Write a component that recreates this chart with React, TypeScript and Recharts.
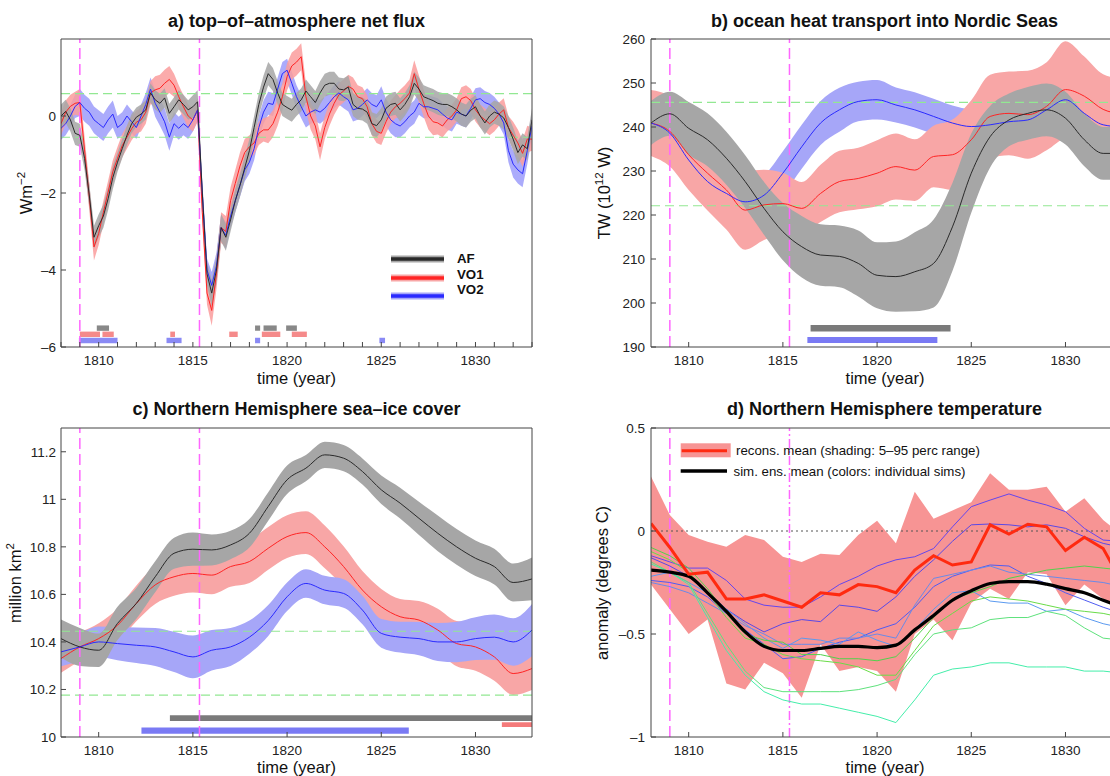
import React from 'react'
import { ComposedChart, Area, Line, XAxis, YAxis, ReferenceLine, ReferenceArea } from 'recharts'

const FONT = '"Liberation Sans", Arial, Helvetica, sans-serif'
const TICK = { fontSize: 13.5, fill: '#222', fontFamily: FONT }
const FRAME = '#444'

const X_DOMAIN: [number, number] = [1808, 1833]
const YEARS = [
    1808, 1809, 1810, 1811, 1812, 1813, 1814, 1815, 1816, 1817, 1818, 1819, 1820,
    1821, 1822, 1823, 1824, 1825, 1826, 1827, 1828, 1829, 1830, 1831, 1832, 1833,
]
const LABEL_TICKS = [1810, 1815, 1820, 1825, 1830]
const ERUPTIONS = [1809.0, 1815.35]

// a) TOA net flux, quarterly from 1808.00 to 1833.00
const TOA_AF = [
    0.0, 0.12, -0.1, -0.45, -0.5, -1.1, -2.05, -3.15, -2.85, -2.6, -2.15, -1.6,
    -1.2, -0.85, -0.5, -0.2, -0.03, 0.05, 0.16, 0.6, 0.42, 0.33, 0.47, 0.07,
    0.24, 0.42, 0.3, 0.16, 0.24, 0.37, -2.0, -4.1, -4.6, -4.0, -2.9, -3.15,
    -2.7, -2.2, -1.8, -1.35, -0.9, -0.3, 0.3, 0.75, 1.1, 0.95, 0.6, 0.3,
    0.22, 0.15, 0.3, 0.42, 0.65, 0.5, 0.35, 0.6, 0.8, 0.85, 0.85, 0.7,
    0.68, 0.75, 0.3, 0.2, 0.18, 0.1, -0.2, -0.25, -0.1, 0.2, 0.3, 0.33,
    0.16, 0.3, 0.5, 0.85, 0.7, 0.5, 0.45, 0.4, 0.33, 0.3, 0.3, 0.24,
    0.16, 0.05, 0.0, 0.15, 0.24, 0.0, -0.18, 0.0, 0.1, 0.05, -0.05, -0.3,
    -0.6, -0.95, -0.75, -0.85, -0.1,
]
const TOA_VO1 = [
    -0.2, 0.1, 0.25, 0.33, 0.35, -0.88, -2.1, -3.4, -3.05, -2.5, -1.98, -1.45,
    -1.1, -0.77, -0.55, -0.33, -0.16, -0.1, 0.1, 0.6, 0.68, 0.72, 0.85, 0.95,
    0.8, 0.5, 0.24, 0.0, -0.1, 0.16, -2.5, -4.6, -5.05, -4.1, -2.9, -3.0,
    -2.2, -1.75, -1.3, -0.95, -0.8, -0.7, -0.45, -0.36, -0.36, -0.2, 0.1, 0.5,
    1.02, 1.3, 1.4, 1.54, 0.5, 0.0, -0.26, -0.8, -0.3, 0.05, 0.33, 0.55,
    0.65, 0.77, 0.7, 0.5, 0.45, 0.24, -0.2, -0.4, -0.45, -0.15, 0.1, 0.24,
    0.33, 0.45, 0.6, 1.1, 0.7, 0.33, 0.0, -0.15, -0.18, -0.26, -0.1, 0.0,
    0.16, 0.45, 0.5, 0.4, 0.16, 0.0, -0.1, -0.2, -0.1, 0.05, 0.16, -0.3,
    -0.5, -0.7, -0.97, -0.6, -0.6,
]
const TOA_VO2 = [
    -0.32, -0.2, 0.0, 0.25, 0.35, 0.2, 0.1, -0.1, -0.2, -0.3, -0.1, 0.05,
    -0.3, -0.2, 0.0, -0.15, -0.3, 0.0, 0.3, 0.7, 0.33, 0.1, -0.15, -0.55,
    -0.2, -0.32, -0.2, -0.3, -0.1, 0.16, -2.0, -4.0, -4.4, -3.9, -2.9, -3.1,
    -2.6, -2.2, -1.8, -1.4, -1.2, -0.85, -0.3, 0.1, 0.33, 0.3, 0.7, 1.1,
    1.19, 0.85, 0.5, 0.24, 0.0, 0.1, 0.16, 0.1, 0.2, 0.35, 0.5, 0.6,
    0.5, 0.42, 0.16, 0.2, 0.3, 0.42, 0.3, 0.24, 0.42, 0.1, -0.1, -0.2,
    -0.26, -0.15, 0.0, 0.1, 0.33, 0.24, 0.24, 0.2, 0.16, 0.05, -0.05, -0.1,
    0.1, 0.05, 0.0, 0.2, 0.42, 0.45, 0.35, 0.3, 0.2, 0.05, -0.18, -0.9,
    -1.25, -1.4, -1.5, -0.9, -0.26,
]
// half-width of the shading, one value per year
const TOA_AF_W = [0.3, 0.3, 0.3, 0.25, 0.25, 0.25, 0.25, 0.3, 0.35, 0.3, 0.3, 0.3, 0.3, 0.3, 0.3, 0.3, 0.3, 0.3, 0.3, 0.3, 0.3, 0.3, 0.3, 0.3, 0.3, 0.3]
const TOA_VO1_W = [0.3, 0.35, 0.3, 0.3, 0.3, 0.35, 0.3, 0.3, 0.4, 0.35, 0.3, 0.35, 0.35, 0.35, 0.3, 0.3, 0.3, 0.3, 0.35, 0.35, 0.3, 0.3, 0.3, 0.3, 0.35, 0.3]
const TOA_VO2_W = [0.3, 0.35, 0.35, 0.3, 0.3, 0.35, 0.3, 0.3, 0.35, 0.3, 0.3, 0.3, 0.3, 0.3, 0.3, 0.3, 0.3, 0.35, 0.3, 0.3, 0.3, 0.3, 0.3, 0.3, 0.35, 0.3]
const TOA_NOISE = [0.58, -0.55]
const TOA_SIG_AF = [[1809.9, 1810.55], [1818.3, 1818.57], [1818.75, 1819.45], [1819.95, 1820.52]]
const TOA_SIG_VO1 = [[1809.0, 1810.07], [1810.2, 1810.8], [1813.8, 1814.05], [1816.93, 1817.38], [1818.66, 1819.64], [1820.25, 1821.05]]
const TOA_SIG_VO2 = [[1808.95, 1811.0], [1813.6, 1814.4], [1818.3, 1818.57], [1824.9, 1825.2]]

// b) ocean heat transport, yearly
const OHT_AF = [240.9, 243.0, 239.7, 237.1, 232.9, 227.6, 221.5, 216.2, 212.8, 210.9, 210.6, 209.0, 206.3, 206.0, 207.1, 209.0, 217.3, 229.5, 237.8, 241.6, 243.1, 243.9, 242.0, 237.1, 234.0, 234.0]
const OHT_VO1 = [240.9, 239.0, 233.7, 229.5, 225.7, 221.1, 222.3, 222.6, 221.5, 224.9, 227.6, 228.3, 229.5, 231.0, 230.2, 233.3, 233.7, 237.1, 242.4, 243.1, 242.8, 244.7, 248.5, 247.0, 244.0, 243.0]
const OHT_VO2 = [240.9, 238.6, 232.5, 227.6, 224.9, 223.0, 224.5, 229.5, 235.5, 240.9, 243.9, 245.8, 246.2, 245.0, 243.9, 242.4, 240.9, 240.1, 240.5, 241.2, 241.6, 243.9, 246.2, 243.1, 240.5, 240.0]
const OHT_AF_W = [5, 5, 6, 6, 6, 6, 6, 6.5, 7, 7, 7, 7.5, 7.5, 8, 9, 10, 10, 9, 7, 6, 6, 6, 6, 6, 6, 6]
const OHT_VO1_W = [7.5, 8, 8, 8.5, 9, 9, 8, 7, 6, 6.5, 7, 7, 7.5, 7.5, 7, 7, 8, 9, 9.5, 9.5, 10, 10, 11, 9, 8, 8]
const OHT_VO2_W = [3, 3, 3.5, 3.5, 3.5, 4, 4.5, 5, 5, 5, 5, 4.5, 4.5, 4, 4, 4, 4, 4, 4, 4, 4, 4, 4, 4, 4, 4]
const OHT_NOISE = [245.6, 222.1]
const OHT_SIG_AF = [[1816.47, 1823.9]]
const OHT_SIG_VO2 = [[1816.3, 1823.2]]

// c) sea-ice cover, yearly
const ICE_AF = [10.414, 10.379, 10.365, 10.478, 10.562, 10.674, 10.773, 10.79, 10.787, 10.808, 10.857, 10.97, 11.082, 11.131, 11.187, 11.173, 11.117, 11.04, 10.984, 10.92, 10.857, 10.8, 10.752, 10.717, 10.65, 10.665]
const ICE_VO1 = [10.33, 10.379, 10.414, 10.47, 10.562, 10.64, 10.674, 10.688, 10.681, 10.717, 10.738, 10.794, 10.843, 10.86, 10.8, 10.717, 10.618, 10.548, 10.506, 10.492, 10.45, 10.393, 10.379, 10.337, 10.267, 10.288]
const ICE_VO2 = [10.358, 10.379, 10.4, 10.393, 10.386, 10.379, 10.358, 10.337, 10.365, 10.379, 10.42, 10.49, 10.59, 10.646, 10.618, 10.604, 10.534, 10.436, 10.42, 10.414, 10.4, 10.4, 10.414, 10.42, 10.4, 10.45]
const ICE_AF_W = [0.08, 0.08, 0.07, 0.07, 0.065, 0.065, 0.065, 0.07, 0.065, 0.06, 0.06, 0.06, 0.06, 0.055, 0.055, 0.055, 0.055, 0.06, 0.065, 0.07, 0.075, 0.075, 0.075, 0.075, 0.08, 0.09]
const ICE_VO1_W = [0.06, 0.06, 0.065, 0.07, 0.075, 0.08, 0.08, 0.08, 0.08, 0.085, 0.09, 0.09, 0.09, 0.09, 0.09, 0.085, 0.08, 0.075, 0.075, 0.08, 0.09, 0.095, 0.1, 0.1, 0.09, 0.09]
const ICE_VO2_W = [0.06, 0.06, 0.065, 0.07, 0.075, 0.08, 0.085, 0.09, 0.085, 0.08, 0.07, 0.065, 0.06, 0.06, 0.06, 0.06, 0.06, 0.06, 0.065, 0.07, 0.08, 0.085, 0.09, 0.095, 0.1, 0.11]
const ICE_NOISE = [10.445, 10.176]
const ICE_SIG_AF = [[1813.78, 1833]]
const ICE_SIG_VO1 = [[1831.4, 1833]]
const ICE_SIG_VO2 = [[1812.27, 1826.46]]

// d) NH temperature, yearly
const RECON_MEAN = [0.037, -0.08, -0.21, -0.2, -0.33, -0.33, -0.31, -0.34, -0.37, -0.3, -0.31, -0.26, -0.27, -0.3, -0.19, -0.12, -0.165, -0.15, 0.03, -0.015, 0.033, 0.02, -0.095, -0.03, -0.085, -0.25]
const RECON_HI = [0.264, 0.078, -0.02, -0.052, -0.076, -0.02, -0.044, -0.125, -0.15, -0.11, -0.117, -0.02, 0.05, -0.06, 0.19, 0.06, 0.1, 0.14, 0.28, 0.2, 0.2, 0.215, 0.094, 0.159, 0.053, -0.02]
const RECON_LO = [-0.26, -0.38, -0.5, -0.43, -0.74, -0.77, -0.64, -0.69, -0.81, -0.55, -0.68, -0.66, -0.68, -0.78, -0.5, -0.43, -0.53, -0.35, -0.28, -0.33, -0.2, -0.21, -0.36, -0.26, -0.33, -0.4]
const SIM_MEAN = [-0.19, -0.2, -0.22, -0.3, -0.39, -0.49, -0.56, -0.58, -0.58, -0.57, -0.56, -0.56, -0.566, -0.554, -0.48, -0.41, -0.336, -0.29, -0.255, -0.246, -0.246, -0.258, -0.28, -0.3, -0.336, -0.37]
const SIM_1 = [-0.12, -0.15, -0.18, -0.18, -0.24, -0.33, -0.36, -0.37, -0.37, -0.32, -0.26, -0.22, -0.17, -0.14, -0.125, -0.085, 0.02, 0.118, 0.15, 0.18, 0.15, 0.126, 0.094, 0.013, -0.044, -0.05]
const SIM_2 = [-0.13, -0.17, -0.22, -0.3, -0.38, -0.44, -0.49, -0.45, -0.43, -0.44, -0.36, -0.37, -0.39, -0.32, -0.22, -0.14, -0.05, 0.03, 0.034, 0.03, 0.02, 0.03, 0.013, -0.028, -0.06, -0.08]
const SIM_3 = [-0.24, -0.25, -0.27, -0.32, -0.4, -0.48, -0.55, -0.62, -0.61, -0.57, -0.54, -0.52, -0.48, -0.45, -0.37, -0.27, -0.22, -0.19, -0.165, -0.17, -0.22, -0.255, -0.3, -0.335, -0.37, -0.4]
const SIM_4 = [-0.22, -0.2, -0.25, -0.3, -0.38, -0.45, -0.52, -0.57, -0.52, -0.53, -0.55, -0.49, -0.53, -0.56, -0.48, -0.38, -0.3, -0.29, -0.34, -0.35, -0.35, -0.39, -0.38, -0.42, -0.45, -0.47]
const SIM_5 = [-0.25, -0.27, -0.3, -0.35, -0.4, -0.46, -0.5, -0.55, -0.55, -0.55, -0.52, -0.52, -0.5, -0.52, -0.36, -0.23, -0.21, -0.19, -0.17, -0.2, -0.21, -0.22, -0.23, -0.24, -0.25, -0.27]
const SIM_6 = [-0.08, -0.12, -0.18, -0.28, -0.4, -0.5, -0.53, -0.54, -0.6, -0.6, -0.62, -0.62, -0.63, -0.61, -0.52, -0.42, -0.33, -0.3, -0.27, -0.23, -0.21, -0.19, -0.18, -0.17, -0.18, -0.19]
const SIM_7 = [-0.1, -0.14, -0.2, -0.3, -0.42, -0.52, -0.55, -0.6, -0.62, -0.63, -0.64, -0.66, -0.7, -0.7, -0.58, -0.46, -0.4, -0.34, -0.32, -0.33, -0.34, -0.36, -0.38, -0.39, -0.4, -0.42]
const SIM_8 = [-0.15, -0.2, -0.25, -0.4, -0.55, -0.68, -0.76, -0.78, -0.78, -0.78, -0.78, -0.77, -0.75, -0.72, -0.6, -0.5, -0.48, -0.47, -0.43, -0.42, -0.42, -0.39, -0.41, -0.47, -0.52, -0.53]
const SIM_9 = [-0.16, -0.2, -0.26, -0.42, -0.58, -0.7, -0.78, -0.82, -0.84, -0.84, -0.86, -0.88, -0.9, -0.93, -0.82, -0.7, -0.67, -0.66, -0.64, -0.64, -0.66, -0.66, -0.66, -0.68, -0.68, -0.69]
const SIMS = [SIM_1, SIM_2, SIM_3, SIM_4, SIM_5, SIM_6, SIM_7, SIM_8, SIM_9]
const SIM_COLORS = ['#6446ee', '#5a48e6', '#4f5cf2', '#5b9af0', '#6a8ae8', '#52d24c', '#6adc48', '#5ee27c', '#44eeaa']

const C = {
    black: '#2a2a2a', red: '#ff2424', blue: '#2a2aff',
    grayBand: '#a6a6a6', redBand: '#f8a6a6', blueBand: '#a6a6f8',
    grayBar: '#7a7a7a', redBar: '#f47a7a', blueBar: '#7a7af4',
    noise: '#92e892', volc: '#ff66ff',
}

const TOA_TABLE = TOA_AF.map((v, i) => {
    const k = Math.floor(i / 4)
    return {
        year: 1808 + i / 4,
        af: v, vo1: TOA_VO1[i], vo2: TOA_VO2[i],
        afBand: [v - TOA_AF_W[k], v + TOA_AF_W[k]],
        vo1Band: [TOA_VO1[i] - TOA_VO1_W[k], TOA_VO1[i] + TOA_VO1_W[k]],
        vo2Band: [TOA_VO2[i] - TOA_VO2_W[k], TOA_VO2[i] + TOA_VO2_W[k]],
    }
})

function yearlyTable(af: number[], vo1: number[], vo2: number[], afW: number[], vo1W: number[], vo2W: number[]) {
    return YEARS.map((year, i) => ({
        year, af: af[i], vo1: vo1[i], vo2: vo2[i],
        afBand: [af[i] - afW[i], af[i] + afW[i]],
        vo1Band: [vo1[i] - vo1W[i], vo1[i] + vo1W[i]],
        vo2Band: [vo2[i] - vo2W[i], vo2[i] + vo2W[i]],
    }))
}
const OHT_TABLE = yearlyTable(OHT_AF, OHT_VO1, OHT_VO2, OHT_AF_W, OHT_VO1_W, OHT_VO2_W)
const ICE_TABLE = yearlyTable(ICE_AF, ICE_VO1, ICE_VO2, ICE_AF_W, ICE_VO1_W, ICE_VO2_W)

const TEMP_TABLE = YEARS.map((year, i) => {
    const row: Record<string, any> = {
        year, recon: RECON_MEAN[i], reconBand: [RECON_LO[i], RECON_HI[i]], ens: SIM_MEAN[i],
    }
    SIMS.forEach((s, j) => { row['s' + j] = s[i] })
    return row
})

const dash = (v: number) => (v < 0 ? '\u2013' + Math.abs(v) : String(v))

// the four axes that make the box round a panel
function frame(yDomain: [number, number], yTicks: number[], xTicks: number[], leftW: number, yMargin: number, yFmt: (v: number) => string) {
    return [
        <XAxis key="xb" dataKey="year" type="number" domain={X_DOMAIN} allowDataOverflow ticks={xTicks} interval={0}
            tickFormatter={(v) => (v % 5 === 0 ? String(v) : '')} height={41} tickSize={-5} tickMargin={13}
            tick={TICK} stroke={FRAME} />,
        <XAxis key="xt" xAxisId="top" orientation="top" type="number" domain={X_DOMAIN} allowDataOverflow ticks={xTicks}
            interval={0} height={1} tick={false} tickSize={-5} stroke={FRAME} />,
        <YAxis key="yl" type="number" domain={yDomain} allowDataOverflow ticks={yTicks} interval={0} tickFormatter={yFmt}
            width={leftW} tickSize={-5} tickMargin={yMargin} tick={TICK} stroke={FRAME} />,
        <YAxis key="yr" yAxisId="r" orientation="right" type="number" domain={yDomain} allowDataOverflow ticks={yTicks}
            interval={0} width={1} tick={false} tickSize={-5} stroke={FRAME} />,
    ]
}

function volcLines(dotted = false) {
    return ERUPTIONS.map((x, i) => (
        <ReferenceLine key={'v' + i} x={x} stroke={C.volc} strokeWidth={1.5}
            strokeDasharray={dotted && i === 1 ? '9 3 2 3' : '11 5'} />
    ))
}

function noiseLines(levels: number[]) {
    return levels.map((y, i) => (
        <ReferenceLine key={'n' + i} y={y} stroke={C.noise} strokeWidth={1.1} strokeDasharray="9 5" />
    ))
}

function sigBars(spans: number[][], y1: number, y2: number, fill: string, key: string) {
    return spans.map(([x1, x2], i) => (
        <ReferenceArea key={key + i} x1={x1} x2={x2} y1={y1} y2={y2} fill={fill} fillOpacity={1} stroke="none" ifOverflow="visible" />
    ))
}

const bandProps = { stroke: 'none', isAnimationActive: false, dot: false, activeDot: false } as const
const lineProps = { dot: false, activeDot: false, isAnimationActive: false, strokeWidth: 1 } as const

export default function App() {
    const abs = (left: number, top: number): React.CSSProperties => ({ position: 'absolute', left, top })
    return (
        <div style={{ position: 'absolute', left: 0, top: 0, width: 1110, height: 776, overflow: 'hidden', background: '#fff', fontFamily: FONT }}>
            {/* a) top-of-atmosphere net flux */}
            <div style={abs(0, 0)}>
                <ComposedChart width={560} height={388} data={TOA_TABLE} margin={{ top: 38, right: 27, bottom: 0, left: 0 }}>
                    {frame([-6, 2], [-6, -4, -2, 0], YEARS, 61, 10, dash)}
                    <Area type="linear" dataKey="vo2Band" fill="#9c9cfa" fillOpacity={0.85} {...bandProps} />
                    <Area type="linear" dataKey="vo1Band" fill="#fa9c9c" fillOpacity={0.85} {...bandProps} />
                    <Area type="linear" dataKey="afBand" fill={C.grayBand} fillOpacity={0.85} {...bandProps} />
                    {noiseLines(TOA_NOISE)}
                    {volcLines()}
                    <Line type="linear" dataKey="vo1" stroke={C.red} {...lineProps} />
                    <Line type="linear" dataKey="vo2" stroke={C.blue} {...lineProps} />
                    <Line type="linear" dataKey="af" stroke={C.black} {...lineProps} />
                    {sigBars(TOA_SIG_AF, -5.58, -5.44, '#888', 'ga')}
                    {sigBars(TOA_SIG_VO1, -5.74, -5.6, '#f58a8a', 'ra')}
                    {sigBars(TOA_SIG_VO2, -5.9, -5.76, '#8a8af5', 'ba')}
                </ComposedChart>
            </div>

            {/* b) ocean heat transport */}
            <div style={abs(555, 0)}>
                <ComposedChart width={600} height={388} data={OHT_TABLE} margin={{ top: 38, right: 32, bottom: 0, left: 0 }}>
                    {frame([190, 260], [190, 200, 210, 220, 230, 240, 250, 260], LABEL_TICKS, 96, 11, String)}
                    <Area type="monotone" dataKey="vo2Band" fill={C.blueBand} fillOpacity={1} {...bandProps} />
                    <Area type="monotone" dataKey="vo1Band" fill={C.redBand} fillOpacity={1} {...bandProps} />
                    <Area type="monotone" dataKey="afBand" fill={C.grayBand} fillOpacity={1} {...bandProps} />
                    {noiseLines(OHT_NOISE)}
                    {volcLines()}
                    <Line type="monotone" dataKey="vo1" stroke={C.red} {...lineProps} />
                    <Line type="monotone" dataKey="vo2" stroke={C.blue} {...lineProps} />
                    <Line type="monotone" dataKey="af" stroke={C.black} {...lineProps} />
                    {sigBars(OHT_SIG_AF, 193.5, 195.0, C.grayBar, 'gb')}
                    {sigBars(OHT_SIG_VO2, 190.9, 192.3, C.blueBar, 'bb')}
                </ComposedChart>
            </div>

            {/* c) sea-ice cover */}
            <div style={abs(0, 390)}>
                <ComposedChart width={560} height={388} data={ICE_TABLE} margin={{ top: 37, right: 27, bottom: 0, left: 0 }}>
                    {frame([10, 11.3], [10, 10.2, 10.4, 10.6, 10.8, 11, 11.2], LABEL_TICKS, 61, 10, String)}
                    <Area type="monotone" dataKey="vo1Band" fill={C.redBand} fillOpacity={1} {...bandProps} />
                    <Area type="monotone" dataKey="vo2Band" fill={C.blueBand} fillOpacity={1} {...bandProps} />
                    <Area type="monotone" dataKey="afBand" fill={C.grayBand} fillOpacity={1} {...bandProps} />
                    {noiseLines(ICE_NOISE)}
                    {volcLines()}
                    <Line type="monotone" dataKey="vo1" stroke={C.red} {...lineProps} />
                    <Line type="monotone" dataKey="vo2" stroke={C.blue} {...lineProps} />
                    <Line type="monotone" dataKey="af" stroke={C.black} {...lineProps} />
                    {sigBars(ICE_SIG_AF, 10.067, 10.091, C.grayBar, 'gc')}
                    {sigBars(ICE_SIG_VO1, 10.042, 10.062, C.redBar, 'rc')}
                    {sigBars(ICE_SIG_VO2, 10.014, 10.04, C.blueBar, 'bc')}
                </ComposedChart>
            </div>

            {/* d) NH temperature */}
            <div style={abs(555, 390)}>
                <ComposedChart width={600} height={388} data={TEMP_TABLE} margin={{ top: 37, right: 32, bottom: 0, left: 0 }}>
                    {frame([-1, 0.5], [-1, -0.5, 0, 0.5], LABEL_TICKS, 96, 11, dash)}
                    <Area type="linear" dataKey="reconBand" fill="#f79494" fillOpacity={1} {...bandProps} />
                    <ReferenceLine y={0} stroke="#555" strokeDasharray="2 3" />
                    {volcLines(true)}
                    {SIMS.map((_, j) => (
                        <Line key={'s' + j} type="linear" dataKey={'s' + j} stroke={SIM_COLORS[j]} {...lineProps} />
                    ))}
                    <Line type="monotone" dataKey="ens" stroke="#000" {...lineProps} strokeWidth={3.2} />
                    <Line type="linear" dataKey="recon" stroke="#ff2a10" {...lineProps} strokeWidth={3} />
                </ComposedChart>
            </div>

            {/* titles, axis labels and legends */}
            <svg width={1110} height={776} style={{ position: 'absolute', left: 0, top: 0, pointerEvents: 'none' }} fontFamily={FONT}>
                <g fontSize={18} fontWeight="bold" fill="#111" textAnchor="middle">
                    <text x={296.5} y={26.5}>a) top–of–atmosphere net flux</text>
                    <text x={884.6} y={26.5}>b) ocean heat transport into Nordic Seas</text>
                    <text x={296.5} y={414.5}>c) Northern Hemisphere sea–ice cover</text>
                    <text x={884.6} y={414.5}>d) Northern Hemisphere temperature</text>
                </g>
                <g fontSize={16.5} fill="#111" textAnchor="middle">
                    <text x={296.5} y={384}>time (year)</text>
                    <text x={885} y={384}>time (year)</text>
                    <text x={296.5} y={772.5}>time (year)</text>
                    <text x={885} y={772.5}>time (year)</text>
                    <text transform="translate(32,193) rotate(-90)">
                        Wm<tspan dy={-7} fontSize={11.5}>−2</tspan>
                    </text>
                    <text transform="translate(610,193) rotate(-90)">
                        TW (10<tspan dy={-7} fontSize={11.5}>12</tspan><tspan dy={7}> W)</tspan>
                    </text>
                    <text transform="translate(21,583) rotate(-90)">
                        million km<tspan dy={-7} fontSize={11.5}>2</tspan>
                    </text>
                    <text transform="translate(607.5,583) rotate(-90)">anomaly (degrees C)</text>
                </g>

                {/* legend a */}
                <g strokeLinecap="butt">
                    <line x1={391} x2={444} y1={259} y2={259} stroke={C.grayBand} strokeWidth={7} />
                    <line x1={391} x2={444} y1={259} y2={259} stroke={C.black} strokeWidth={3.5} />
                    <line x1={391} x2={444} y1={278} y2={278} stroke={C.redBand} strokeWidth={7} />
                    <line x1={391} x2={444} y1={278} y2={278} stroke={C.red} strokeWidth={3.5} />
                    <line x1={391} x2={444} y1={296} y2={296} stroke={C.blueBand} strokeWidth={7} />
                    <line x1={391} x2={444} y1={296} y2={296} stroke={C.blue} strokeWidth={3.5} />
                </g>
                <g fontSize={13.3} fontWeight="bold" fill="#111">
                    <text x={457} y={263}>AF</text>
                    <text x={457} y={278.5}>VO1</text>
                    <text x={457} y={293.5}>VO2</text>
                </g>

                {/* legend d */}
                <rect x={680.7} y={443.3} width={50} height={14} fill="#f79494" />
                <line x1={681.7} x2={727} y1={450.7} y2={450.7} stroke="#ff2a10" strokeWidth={3} />
                <line x1={680.7} x2={727} y1={471} y2={471} stroke="#000" strokeWidth={3.5} />
                <g fontSize={13.3} fill="#111">
                    <text x={736} y={455}>recons. mean (shading: 5–95 perc range)</text>
                    <text x={733.5} y={475.5}>sim. ens. mean (colors: individual sims)</text>
                </g>
            </svg>
        </div>
    )
}
